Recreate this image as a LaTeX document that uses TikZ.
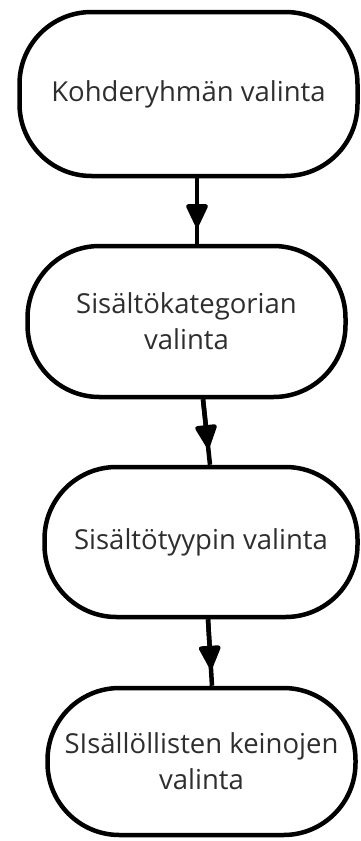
\documentclass[tikz,border=0pt]{standalone}
\usepackage{fontspec}
\setmainfont{Open Sans}
\usetikzlibrary{arrows.meta,calc}
\definecolor{tekstiharmaa}{HTML}{2E2E2E}

\begin{document}
\begin{tikzpicture}[x=1pt,y=1pt,
  every node/.style = {shape=rectangle, rounded corners=72pt,
    draw, line width=4.5pt, align=center, text=tekstiharmaa,
    font=\fontsize{27.5}{36}\selectfont},
  viiva/.style = {line width=4.5pt},
  karki/.style = {line width=4.5pt, -{Stealth[round, inset=0pt, width=23pt, length=26pt]}}]
  \useasboundingbox (0,0) rectangle (361,-841);
  \node[minimum width=338pt, minimum height=164pt] (kohde) at (188.5,-94) {Kohderyhmän valinta};
  \node[minimum width=318pt, minimum height=151pt] (kategoria) at (186.5,-321.5) {Sisältökategorian\\valinta};
  \node[minimum width=313pt, minimum height=150pt] (tyyppi) at (201,-542) {Sisältötyypin valinta};
  \node[minimum width=308pt, minimum height=147pt] (keinot) at (201.5,-761.5) {SIsällöllisten keinojen\\valinta};
  % yhdysviivat ja nuolenkärjet
  \draw[viiva] ([xshift=8.5pt]kohde.south) -- ([xshift=10.5pt]kategoria.north);
  \draw[karki] ([xshift=8.5pt]kohde.south) -- ($([xshift=8.5pt]kohde.south)!0.74!([xshift=10.5pt]kategoria.north)$);
  \draw[viiva] ([xshift=16.5pt]kategoria.south) -- ([xshift=9pt]tyyppi.north);
  \draw[karki] ([xshift=16.5pt]kategoria.south) -- ($([xshift=16.5pt]kategoria.south)!0.74!([xshift=9pt]tyyppi.north)$);
  \draw[viiva] ([xshift=7pt]tyyppi.south) -- ([xshift=10.5pt]keinot.north);
  \draw[karki] ([xshift=7pt]tyyppi.south) -- ($([xshift=7pt]tyyppi.south)!0.74!([xshift=10.5pt]keinot.north)$);
\end{tikzpicture}
\end{document}
